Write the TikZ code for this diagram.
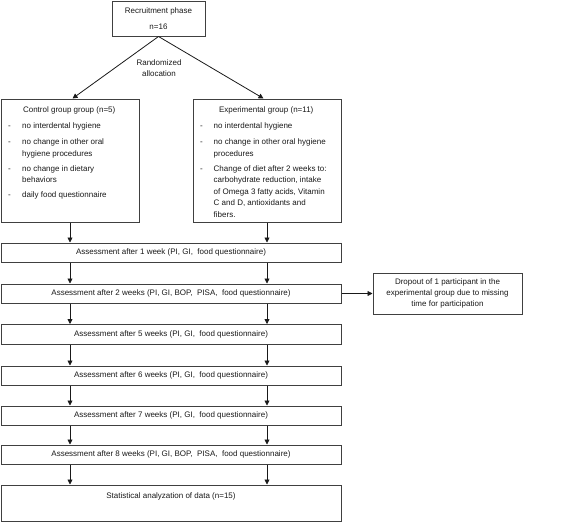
\documentclass[tikz,border=0pt]{standalone}
\usepackage{fontspec}
\setmainfont{Liberation Sans}
\usepackage{array}
\usetikzlibrary{positioning,arrows.meta}

\begin{document}
\begin{tikzpicture}[x=1pt,y=-1pt,color=black!90,
  font=\fontsize{8}{11}\selectfont,
  box/.style={draw=black!75,line width=1pt,inner sep=0pt,align=center},
  list/.style={anchor=north west,inner sep=0pt,font=\fontsize{8}{11.5}\selectfont},
  arr/.style={line width=0.8pt,-{Triangle[length=5pt,width=5pt]}}]
\useasboundingbox (0,0) rectangle (567,522);
\node [box,minimum width=93pt,minimum height=35pt] (rec) at (158.5,18.5) {Recruitment phase\\[5.5pt]n=16};
\node [align=center,inner sep=0pt] (rand) at (159,68.5) {Randomized\\allocation};
% the two groups
\node [box,minimum width=138pt,minimum height=123pt] (ctrl) at (70,160.5) {};
\node [list] (ctrllist) at ([xshift=7.5pt,yshift=-6pt]ctrl.north west) {%
  \begin{tabular}{@{}p{14pt}@{}>{\raggedright\arraybackslash}p{108pt}@{}}
  \multicolumn{2}{c}{Control group group (n=5)}\\\noalign{\vskip4.5pt}
  - & no interdental hygiene\\\noalign{\vskip4.5pt}
  - & no change in other oral\newline hygiene procedures\\\noalign{\vskip3.5pt}
  - & no change in dietary\newline behaviors\\\noalign{\vskip3.5pt}
  - & daily food questionnaire
  \end{tabular}};
\node [box,minimum width=148pt,minimum height=123pt] (exp) at (267,160.5) {};
\node [list] (explist) at ([xshift=7.5pt,yshift=-6pt]exp.north west) {%
  \begin{tabular}{@{}p{13.5pt}@{}>{\raggedright\arraybackslash}p{118.5pt}@{}}
  \multicolumn{2}{c}{Experimental group (n=11)}\\\noalign{\vskip4.5pt}
  - & no interdental hygiene\\\noalign{\vskip4.5pt}
  - & no change in other oral hygiene\newline procedures\\\noalign{\vskip3.5pt}
  - & Change of diet after 2 weeks to:\newline carbohydrate reduction, intake\newline of Omega 3 fatty acids, Vitamin\newline C and D, antioxidants and\newline fibers.
  \end{tabular}};
% assessments
\node [box,minimum width=340pt,minimum height=19pt] (w1) at (171,252.5) {Assessment after 1 week (PI, GI,\ \ food questionnaire)};
\node [box,minimum width=340pt,minimum height=19pt] (w2) at (171,293.5) {Assessment after 2 weeks (PI, GI, BOP,\ \ PISA,\ \ food questionnaire)};
\node [box,minimum width=340pt,minimum height=20pt] (w5) at (171,334.5) {Assessment after 5 weeks (PI, GI,\ \ food questionnaire)};
\node [box,minimum width=340pt,minimum height=19pt] (w6) at (171,375.5) {Assessment after 6 weeks (PI, GI,\ \ food questionnaire)};
\node [box,minimum width=340pt,minimum height=19pt] (w7) at (171,415.5) {Assessment after 7 weeks (PI, GI,\ \ food questionnaire)};
\node [box,minimum width=340pt,minimum height=19pt] (w8) at (171,454.5) {Assessment after 8 weeks (PI, GI, BOP,\ \ PISA,\ \ food questionnaire)};
\node [box,minimum width=340pt,minimum height=36pt] (stat) at (171,503) {Statistical analyzation of data (n=15)\\[3pt]\mbox{}};
\node [box,minimum width=149pt,minimum height=41pt] (drop) at (447.5,293.5) {Dropout of 1 participant in the\\experimental group due to missing\\time for participation};
% connectors
\draw [arr] (rec.south) -- ([xshift=72pt]ctrl.north west);
\draw [arr] (rec.south) -- ([xshift=71pt]exp.north west);
\draw [arr] (ctrl.south) -- (ctrl.south |- w1.north);
\draw [arr] (exp.south) -- (exp.south |- w1.north);
\draw [arr] (w1.south -| ctrl.south) -- (w2.north -| ctrl.south);
\draw [arr] (w1.south -| exp.south) -- (w2.north -| exp.south);
\draw [arr] (w2.south -| ctrl.south) -- (w5.north -| ctrl.south);
\draw [arr] (w2.south -| exp.south) -- (w5.north -| exp.south);
\draw [arr] (w5.south -| ctrl.south) -- (w6.north -| ctrl.south);
\draw [arr] (w5.south -| exp.south) -- (w6.north -| exp.south);
\draw [arr] (w6.south -| ctrl.south) -- (w7.north -| ctrl.south);
\draw [arr] (w6.south -| exp.south) -- (w7.north -| exp.south);
\draw [arr] (w7.south -| ctrl.south) -- (w8.north -| ctrl.south);
\draw [arr] (w7.south -| exp.south) -- (w8.north -| exp.south);
\draw [arr] (w8.south -| ctrl.south) -- (stat.north -| ctrl.south);
\draw [arr] (w8.south -| exp.south) -- (stat.north -| exp.south);
\draw [arr] (w2.east) -- (drop.west);
\end{tikzpicture}
\end{document}
